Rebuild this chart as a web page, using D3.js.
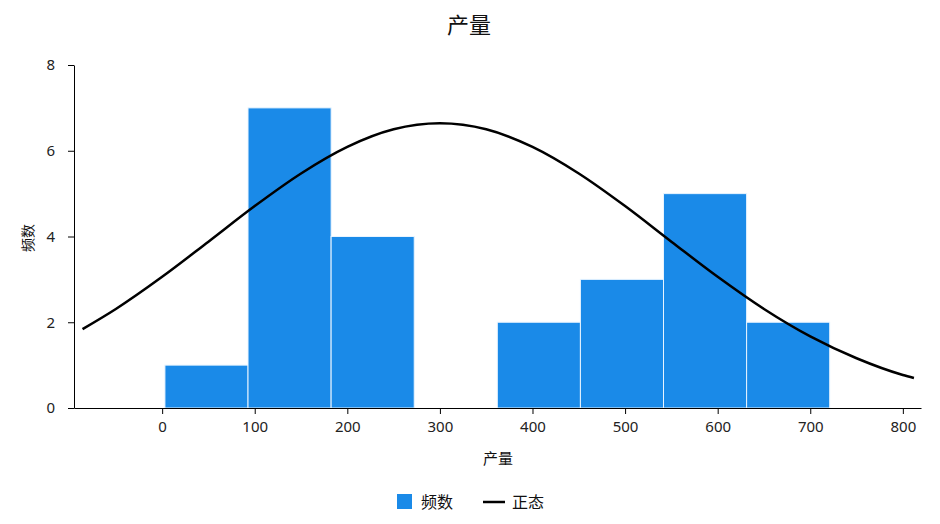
<!DOCTYPE html>
<html>
<head>
<meta charset="utf-8">
<script src="https://cdn.jsdelivr.net/npm/d3@7/dist/d3.min.js"></script>
<style>
  body { margin: 0; background: #fff; }
  svg { font-family: "Noto Sans CJK SC", "Noto Sans", sans-serif; }
  .axis path, .axis line { stroke: #000; }
  .axis text { font-size: 15px; fill: #222; font-family: "Noto Sans", "Open Sans", sans-serif; }
</style>
</head>
<body>
<svg width="940" height="524"></svg>
<script>
// histogram bins (产量) and counts (频数)
const binEdges = [3, 92.75, 182.5, 272.25, 362, 451.75, 541.5, 631.25, 721];
const counts = [1, 7, 4, 0, 2, 3, 5, 2];

// normal curve (正态)
const curveX = [-86, -50, 0, 50, 100, 150, 200, 250, 300, 350, 400, 450, 500, 550, 600, 650, 700, 750, 800, 812];
const curveY = [1.84, 2.31, 3.06, 3.88, 4.71, 5.47, 6.09, 6.50, 6.64, 6.50, 6.09, 5.47, 4.71, 3.88, 3.06, 2.31, 1.67, 1.16, 0.77, 0.70];

const xTicks = [0, 100, 200, 300, 400, 500, 600, 700, 800];
const yTicks = [0, 2, 4, 6, 8];

const svg = d3.select("svg");
const plotLeft = 74, plotRight = 921, plotTop = 65, plotBottom = 408;

const x = d3.scaleLinear().domain([-95.2, 819.6]).range([plotLeft, plotRight]);
const y = d3.scaleLinear().domain([0, 8]).range([plotBottom, plotTop]);

const bins = counts.map((c, i) => ({ x0: binEdges[i], x1: binEdges[i + 1], n: c }));

svg.append("g")
  .selectAll("rect")
  .data(bins.filter(d => d.n > 0))
  .enter()
  .append("rect")
  .attr("x", d => x(d.x0))
  .attr("y", d => y(d.n))
  .attr("width", d => x(d.x1) - x(d.x0))
  .attr("height", d => y(0) - y(d.n))
  .attr("fill", "#1a8ae8")
  .attr("stroke", "#e8f4ff")
  .attr("stroke-width", 1);

svg.append("g")
  .attr("class", "axis")
  .attr("transform", "translate(0," + plotBottom + ")")
  .call(d3.axisBottom(x).tickValues(xTicks).tickSizeOuter(0).tickPadding(7));

svg.append("g")
  .attr("class", "axis")
  .attr("transform", "translate(" + plotLeft + ",0)")
  .call(d3.axisLeft(y).tickValues(yTicks).tickSizeOuter(0).tickPadding(13));

const line = d3.line()
  .x((d, i) => x(curveX[i]))
  .y(d => y(d))
  .curve(d3.curveMonotoneX);

svg.append("path")
  .datum(curveY)
  .attr("d", line)
  .attr("fill", "none")
  .attr("stroke", "#000")
  .attr("stroke-width", 2.5);

// titles
svg.append("text")
  .attr("x", 469).attr("y", 33)
  .attr("text-anchor", "middle")
  .style("font-size", "22px").attr("fill", "#111")
  .text("产量");

svg.append("text")
  .attr("x", 498).attr("y", 464)
  .attr("text-anchor", "middle")
  .style("font-size", "15px").attr("fill", "#111")
  .text("产量");

svg.append("text")
  .attr("transform", "translate(33,238) rotate(-90)")
  .attr("text-anchor", "middle")
  .style("font-size", "14px").attr("fill", "#111")
  .text("频数");

// legend
const lg = svg.append("g").attr("transform", "translate(397,494)");
lg.append("rect").attr("x", 0).attr("y", 0).attr("width", 15).attr("height", 15).attr("fill", "#1a8ae8");
lg.append("text").attr("x", 24).attr("y", 14).style("font-size", "16px").attr("fill", "#111").text("频数");
lg.append("line").attr("x1", 86).attr("x2", 108).attr("y1", 8).attr("y2", 8).attr("stroke", "#000").attr("stroke-width", 2.5);
lg.append("text").attr("x", 115).attr("y", 14).style("font-size", "16px").attr("fill", "#111").text("正态");
</script>
</body>
</html>
